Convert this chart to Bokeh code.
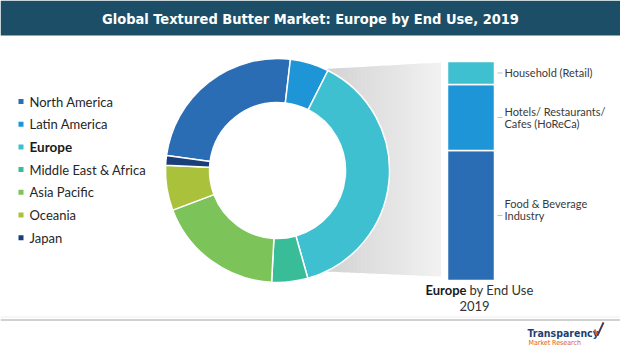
import numpy as np
from bokeh.plotting import figure
from bokeh.models import Range1d, ColumnDataSource
from bokeh.core.properties import value
from bokeh.embed import file_html
from bokeh.resources import INLINE

# ---------------- data ----------------
regions = ["North America", "Latin America", "Europe", "Middle East & Africa",
           "Asia Pacific", "Oceania", "Japan"]
region_share = [24.7, 5.6, 38.2, 5.2, 18.4, 6.5, 1.4]
region_colors = ["#2a6db5", "#1e95d6", "#3fc0d0", "#38bd98", "#7cc35a", "#a9c13b", "#1b3e78"]

end_uses = ["Food & Beverage\nIndustry", "Hotels/ Restaurants/\nCafes (HoReCa)", "Household (Retail)"]
end_use_share = [59.4, 30.1, 10.5]
end_use_colors = ["#2a6db5", "#1e95d6", "#3fc0d0"]

title = "Global Textured Butter Market: Europe by End Use, 2019"

W, H = 620, 356
FONT = "Lato"
COND = "DejaVu Sans Condensed"

p = figure(width=W, height=H, x_range=Range1d(0, W), y_range=Range1d(H, 0),
           output_backend="svg", toolbar_location=None, min_border=0,
           x_axis_location=None, y_axis_location=None)
p.grid.visible = False
p.outline_line_color = None
p.background_fill_color = "white"
p.border_fill_color = "white"

# title bar
p.quad(left=[0], right=[W], top=[0], bottom=[35], fill_color="#1c4f67", line_color=None)
p.text(x=[310], y=[18], text=[title], text_font=value(COND),
       text_font_size=value("14.5px"), text_font_style="bold", text_color="white",
       text_align="center", text_baseline="middle")

# bottom rule
p.line(x=[0, W], y=[316.5, 316.5], line_color="#eeeeee", line_width=1)
p.line(x=[0, W], y=[319.5, 319.5], line_color="#a3a3a3", line_width=1.2)

# ---------------- connector gradient ----------------
cx, cy, r_in, r_out = 277, 170, 68, 112
xs_edges = np.linspace(325, 440, 30)
def top_y(x):
    return 68.5 + (x - 325) * (62 - 68.5) / (440 - 325)
def bot_y(x):
    return 271 + (x - 325) * (276 - 271) / (440 - 325)
gx, gy, gc = [], [], []
for i in range(len(xs_edges) - 1):
    a, b = xs_edges[i], xs_edges[i + 1] + 0.6
    gx.append([a, b, b, a])
    gy.append([top_y(a), top_y(b), bot_y(b), bot_y(a)])
    t = i / (len(xs_edges) - 2)
    v = int(round(0xd3 + t * (0xf1 - 0xd3)))
    gc.append("#%02x%02x%02x" % (v, v, v))
p.patches(xs=gx, ys=gy, fill_color=gc, line_color=None)
# hole cover
p.circle(x=[cx], y=[cy], radius=r_in - 0.5, fill_color="white", line_color=None)

# ---------------- donut ----------------
start_cw = 277.7  # degrees clockwise from 12 o'clock where first slice begins
shares = np.array(region_share) / sum(region_share) * 360.0
cum = np.concatenate([[0], np.cumsum(shares)])
starts = 90 - (start_cw + cum[:-1])
ends = 90 - (start_cw + cum[1:])
donut = ColumnDataSource(dict(start=np.radians(starts), end=np.radians(ends),
                              color=region_colors))
p.annular_wedge(x=cx, y=cy, inner_radius=r_in, outer_radius=r_out,
                start_angle="start", end_angle="end", direction="clock",
                fill_color="color", line_color="white", line_width=1.5, source=donut)

# ---------------- legend ----------------
leg_y0, leg_dy = 101, 22.7
leg_y = [leg_y0 + i * leg_dy for i in range(len(regions))]
p.rect(x=[20.5] * len(regions), y=leg_y, width=5, height=5,
       fill_color=region_colors, line_color=None)
normal_idx = [i for i, r in enumerate(regions) if r != "Europe"]
p.text(x=[29] * len(normal_idx), y=[leg_y[i] for i in normal_idx],
       text=[regions[i] for i in normal_idx], text_font=value(FONT),
       text_font_size=value("13px"), text_color="#262626",
       text_align="left", text_baseline="middle")
ei = regions.index("Europe")
p.text(x=[29], y=[leg_y[ei]], text=[regions[ei]], text_font=value(FONT),
       text_font_size=value("13.5px"), text_font_style="bold", text_color="#1a1a1a",
       text_align="left", text_baseline="middle")

# ---------------- stacked bar ----------------
bar_top_px, bar_bot_px = 61, 280
span = bar_bot_px - bar_top_px
p.extra_y_ranges = {"share": Range1d(start=(bar_bot_px - H) / span * 100,
                                     end=bar_bot_px / span * 100)}
ecum = np.concatenate([[0], np.cumsum(end_use_share)])
ecum = ecum / ecum[-1] * 100
label_nudge = [-6, 0, 0]  # px shift of each label relative to its segment middle
bars = ColumnDataSource(dict(bottom=ecum[:-1], top=ecum[1:], color=end_use_colors,
                             mid=(ecum[:-1] + ecum[1:]) / 2, label=end_uses,
                             nudge=label_nudge))
p.vbar(x=470.5, width=47, bottom="bottom", top="top", fill_color="color",
       line_color="white", line_width=1.5, source=bars, y_range_name="share")
p.segment(x0=497, x1=502, y0="mid", y1="mid", line_color="#bfbfbf", line_width=1,
          source=bars, y_range_name="share")
p.text(x=504, y="mid", y_offset="nudge", text="label", text_font=value(FONT),
       text_font_size=value("11px"),
       text_color="#3a3a3a", text_align="left", text_baseline="middle",
       text_line_height=0.9, source=bars, y_range_name="share")

# bar caption
p.text(x=[466], y=[289], text=["Europe"], text_font=value(FONT),
       text_font_size=value("13px"), text_font_style="bold", text_color="#1a1a1a",
       text_align="right", text_baseline="middle")
p.text(x=[469], y=[289], text=["by End Use"], text_font=value(FONT),
       text_font_size=value("13px"), text_color="#333333",
       text_align="left", text_baseline="middle")
p.text(x=[474], y=[305], text=["2019"], text_font=value(FONT),
       text_font_size=value("13px"), text_color="#333333",
       text_align="center", text_baseline="middle")

# ---------------- logo ----------------
p.text(x=[527], y=[332], text=["Transparency"], text_font=value(COND),
       text_font_size=value("10.5px"), text_font_style="bold", text_color="#1f3f73",
       text_align="left", text_baseline="middle")
p.text(x=[528], y=[342], text=["Market Research"], text_font=value(COND),
       text_font_size=value("7px"), text_color="#d8632a",
       text_align="left", text_baseline="middle")
p.line(x=[594, 597, 603], y=[329, 335, 322], line_color="#d8632a", line_width=2)
p.line(x=[597, 603], y=[335, 322], line_color="#1f3f73", line_width=1.5)

open("out.html", "w").write(file_html(p, INLINE))
